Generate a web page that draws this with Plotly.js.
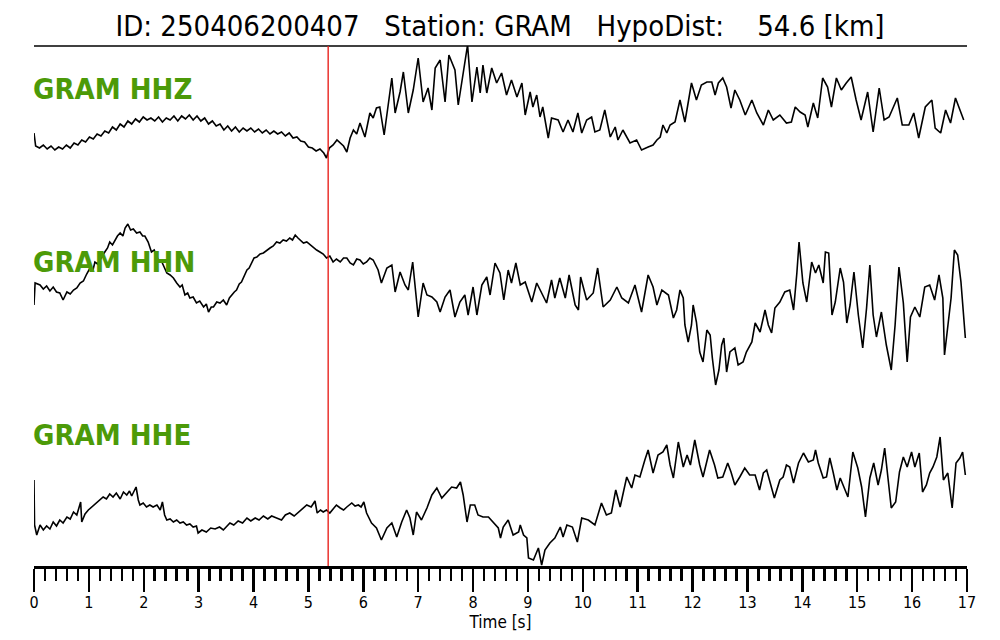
<!DOCTYPE html>
<html>
<head>
<meta charset="utf-8">
<script src="https://cdn.plot.ly/plotly-3.0.1.min.js"></script>
<style>html,body{margin:0;padding:0;background:#fff;}#chart{width:1000px;height:640px;}</style>
</head>
<body>
<div id="chart"></div>
<script>
// ---- Data (time in seconds, amplitude in arbitrary counts) ----
const stationName = "GRAM";
const eventId = "250406200407";
const hypoDistKm = 54.6;
const pickTime = 5.36;
const channels = ["HHZ", "HHN", "HHE"];

const timeZ = [0.00,0.03,0.10,0.17,0.24,0.31,0.38,0.45,0.52,0.59,0.66,0.73,0.80,0.87,0.94,1.01,1.08,1.15,1.22,1.29,1.36,1.43,1.50,1.57,1.64,1.71,1.78,1.85,1.92,1.99,2.06,2.13,2.20,2.27,2.34,2.41,2.48,2.55,2.62,2.69,2.76,2.83,2.90,2.97,3.04,3.11,3.18,3.25,3.32,3.39,3.46,3.53,3.60,3.67,3.74,3.81,3.88,3.95,4.02,4.09,4.16,4.23,4.30,4.37,4.44,4.51,4.58,4.65,4.72,4.79,4.86,4.93,5.00,5.07,5.14,5.21,5.28,5.33,5.38,5.45,5.52,5.58,5.64,5.70,5.76,5.82,5.88,5.94,6.03,6.12,6.18,6.24,6.30,6.38,6.52,6.58,6.67,6.73,6.82,6.91,7.00,7.09,7.18,7.25,7.31,7.40,7.49,7.56,7.67,7.73,7.82,7.90,7.98,8.07,8.13,8.18,8.25,8.34,8.43,8.52,8.61,8.70,8.80,8.89,8.95,9.04,9.09,9.16,9.22,9.27,9.37,9.43,9.55,9.64,9.73,9.82,9.91,9.98,10.07,10.16,10.22,10.31,10.40,10.50,10.59,10.64,10.73,10.86,10.98,11.07,11.19,11.28,11.35,11.41,11.46,11.53,11.59,11.68,11.77,11.86,11.98,12.07,12.16,12.26,12.35,12.41,12.47,12.55,12.62,12.70,12.77,12.86,12.96,13.08,13.17,13.29,13.38,13.47,13.59,13.71,13.80,13.87,13.96,14.05,14.10,14.20,14.28,14.37,14.46,14.53,14.62,14.71,14.80,14.89,14.98,15.07,15.19,15.29,15.40,15.49,15.58,15.73,15.82,15.94,16.03,16.12,16.24,16.36,16.42,16.52,16.61,16.70,16.79,16.88,16.94];
const ampZ = [-3,-16,-18,-15,-19,-16,-20,-17,-19,-15,-18,-13,-15,-10,-12,-7,-9,-4,-6,-1,-3,3,0,6,3,9,6,11,8,13,10,12,9,13,8,12,10,14,9,14,11,15,10,14,9,12,6,9,4,6,0,4,-1,3,-2,2,-1,2,-2,1,-3,0,-4,-1,-4,-2,-6,-3,-8,-7,-11,-12,-17,-18,-21,-19,-23,-28,-18,-15,-10,-13,-16,-22,-8,0,-4,7,-7,17,12,22,23,-5,52,17,38,58,17,40,72,28,42,20,62,70,28,75,60,25,55,85,28,63,37,65,37,62,47,57,35,50,33,47,15,38,23,35,13,23,-8,12,10,-2,10,-2,17,-3,10,13,-2,0,20,-7,3,-10,0,-13,-10,-20,-17,-15,-10,-7,5,-3,5,8,30,8,47,30,45,48,48,35,47,52,43,22,40,30,15,30,17,5,20,10,15,7,8,23,18,15,3,27,12,52,43,23,52,40,47,53,30,10,38,-2,42,10,13,32,5,5,17,-8,23,30,2,-3,20,7,32,18,10];

const timeN = [0.00,0.02,0.11,0.17,0.23,0.29,0.35,0.41,0.47,0.53,0.60,0.66,0.72,0.78,0.84,0.90,0.96,1.02,1.07,1.11,1.16,1.20,1.25,1.29,1.34,1.38,1.43,1.48,1.52,1.57,1.62,1.66,1.71,1.76,1.81,1.87,1.93,1.98,2.02,2.08,2.14,2.19,2.24,2.28,2.33,2.38,2.42,2.48,2.54,2.60,2.66,2.70,2.75,2.80,2.84,2.90,2.96,3.02,3.09,3.14,3.18,3.23,3.27,3.33,3.39,3.45,3.51,3.56,3.60,3.65,3.69,3.74,3.78,3.83,3.88,3.92,3.97,4.01,4.06,4.12,4.18,4.24,4.30,4.36,4.42,4.48,4.54,4.60,4.66,4.71,4.76,4.81,4.85,4.91,4.97,5.03,5.09,5.15,5.21,5.27,5.33,5.39,5.45,5.51,5.58,5.64,5.70,5.76,5.82,5.88,5.94,6.00,6.06,6.12,6.18,6.27,6.33,6.43,6.52,6.58,6.67,6.76,6.82,6.90,7.00,7.09,7.16,7.25,7.34,7.40,7.49,7.58,7.67,7.76,7.85,7.91,8.00,8.07,8.16,8.25,8.31,8.40,8.49,8.56,8.64,8.70,8.78,8.86,8.95,9.07,9.16,9.25,9.34,9.43,9.49,9.58,9.68,9.75,9.86,9.92,9.96,10.07,10.19,10.27,10.37,10.50,10.62,10.71,10.83,10.95,11.07,11.19,11.28,11.35,11.44,11.56,11.65,11.71,11.77,11.83,11.86,11.92,11.98,12.01,12.07,12.13,12.19,12.26,12.32,12.36,12.42,12.48,12.53,12.57,12.62,12.68,12.77,12.83,12.92,12.98,13.08,13.14,13.23,13.32,13.38,13.44,13.50,13.59,13.68,13.77,13.84,13.90,13.94,14.01,14.08,14.17,14.24,14.30,14.38,14.42,14.48,14.54,14.60,14.69,14.75,14.81,14.87,14.94,15.02,15.10,15.17,15.23,15.29,15.35,15.44,15.53,15.62,15.69,15.76,15.84,15.91,15.97,16.05,16.14,16.23,16.32,16.41,16.49,16.56,16.59,16.65,16.71,16.77,16.83,16.89,16.97];
const ampN = [-15,7,5,1,4,-1,3,-2,-3,-10,-2,-4,0,2,7,9,16,22,19,28,26,30,35,38,42,48,45,50,54,57,54,62,66,60,61,57,58,54,54,48,38,40,33,28,28,22,17,15,12,7,3,5,-5,-3,-8,-7,-13,-11,-17,-14,-22,-17,-17,-12,-13,-10,-15,-8,-5,-2,0,6,8,14,20,22,28,32,33,36,37,40,42,44,48,47,50,49,52,50,55,52,50,47,48,45,43,40,38,36,32,34,28,31,28,32,32,27,25,31,30,26,28,32,30,20,7,22,25,-2,18,5,0,28,-27,7,-5,-7,-12,-22,-7,0,-27,-12,-5,-25,3,-25,5,13,-5,27,17,-10,20,7,27,5,8,-12,7,-3,-13,10,-8,12,-8,15,-15,-20,13,-10,-3,22,-17,-10,3,-8,-13,5,-22,15,3,-15,0,-5,-28,-20,0,-8,-35,-52,-35,-15,-32,-62,-72,-40,-45,-68,-95,-80,-55,-48,-82,-62,-58,-75,-72,-62,-52,-33,-42,-20,-35,-43,-18,-12,-2,0,-20,17,48,7,-12,28,17,25,7,38,37,-25,-12,22,8,-33,-15,18,-25,-58,-18,25,-25,-47,-22,-55,-80,-35,23,-13,-72,-27,-17,-27,3,5,-10,15,-8,-65,-35,-8,40,35,8,-48];

const timeE = [0.00,0.01,0.05,0.11,0.17,0.23,0.29,0.35,0.41,0.47,0.53,0.60,0.66,0.72,0.78,0.82,0.85,0.87,0.93,0.99,1.05,1.11,1.16,1.20,1.26,1.32,1.38,1.44,1.50,1.57,1.63,1.69,1.74,1.78,1.84,1.86,1.90,1.93,1.99,2.05,2.11,2.17,2.24,2.30,2.34,2.38,2.42,2.48,2.54,2.60,2.66,2.72,2.78,2.84,2.90,2.96,2.99,3.06,3.14,3.22,3.30,3.38,3.45,3.51,3.57,3.64,3.72,3.80,3.88,3.95,4.03,4.10,4.18,4.26,4.33,4.42,4.51,4.58,4.66,4.74,4.82,4.90,4.97,5.05,5.12,5.16,5.22,5.27,5.33,5.39,5.45,5.51,5.58,5.64,5.70,5.79,5.85,5.91,5.96,6.01,6.06,6.15,6.24,6.33,6.43,6.52,6.61,6.70,6.79,6.85,6.91,6.97,7.06,7.16,7.25,7.34,7.43,7.52,7.61,7.70,7.77,7.82,7.89,7.95,8.03,8.09,8.18,8.28,8.37,8.46,8.50,8.55,8.64,8.73,8.83,8.86,8.92,8.98,9.01,9.10,9.19,9.25,9.31,9.40,9.49,9.59,9.64,9.71,9.81,9.90,9.98,10.10,10.22,10.34,10.43,10.52,10.60,10.68,10.80,10.89,10.95,11.04,11.13,11.19,11.28,11.37,11.46,11.53,11.59,11.65,11.74,11.83,11.90,11.96,12.04,12.13,12.19,12.31,12.40,12.46,12.55,12.64,12.70,12.77,12.86,12.95,13.04,13.14,13.22,13.29,13.35,13.41,13.49,13.59,13.65,13.71,13.77,13.84,13.93,14.02,14.11,14.20,14.24,14.29,14.38,14.44,14.50,14.56,14.63,14.69,14.77,14.83,14.92,15.01,15.08,15.15,15.23,15.30,15.38,15.44,15.50,15.56,15.62,15.70,15.77,15.84,15.91,15.99,16.05,16.13,16.19,16.26,16.32,16.38,16.45,16.51,16.57,16.65,16.73,16.80,16.87,16.92,16.97];
const ampE = [20,-25,-35,-25,-30,-26,-29,-22,-26,-20,-23,-17,-19,-12,-15,-8,-2,-22,-14,-10,-7,-4,-1,0,3,1,6,3,7,1,8,5,9,4,10,13,0,-5,-3,-7,-5,-7,-5,-10,-2,-15,-20,-19,-22,-20,-23,-22,-25,-24,-27,-26,-33,-30,-32,-28,-29,-27,-30,-26,-23,-25,-21,-23,-18,-21,-18,-20,-16,-19,-16,-18,-20,-15,-13,-16,-12,-9,-5,-7,-1,-13,-10,-12,-10,-13,-9,-5,-8,-10,-7,-3,-6,-5,-7,-2,-13,-23,-28,-40,-28,-23,-37,-22,-10,-18,-35,-12,-20,-8,5,12,2,7,13,12,18,5,-22,-5,-5,-15,-17,-17,-22,-28,-38,-27,-20,-35,-32,-25,-35,-38,-58,-60,-48,-65,-50,-43,-38,-27,-37,-25,-27,-42,-18,-20,-25,-3,-15,-13,10,-7,23,12,25,23,40,50,27,45,48,55,35,22,58,33,45,35,60,35,23,50,35,22,23,37,28,15,23,32,25,25,10,27,30,17,2,20,23,35,33,17,37,47,38,40,50,37,22,23,42,28,10,22,12,3,48,32,13,-17,22,37,15,30,52,23,-8,-2,28,43,33,48,33,47,8,15,27,33,43,63,20,27,-8,37,42,48,25];

// ---- Layout constants ----
const traceBase = [436, 276, 66];   // vertical offsets of the three channels
const labelY = [0.917, 0.585, 0.251];
const fam = "'DejaVu Sans Condensed', 'DejaVu Sans', sans-serif";

const times = [timeZ, timeN, timeE];
const amps = [ampZ, ampN, ampE];

const data = channels.map((ch, i) => ({
  type: 'scatter',
  mode: 'lines',
  name: stationName + ' ' + ch,
  x: times[i],
  y: amps[i].map(v => v + traceBase[i]),
  line: {color: '#000000', width: 1.6},
  hoverinfo: 'skip',
  showlegend: false
}));

const annotations = channels.map((ch, i) => ({
  text: stationName + ' ' + ch,
  xref: 'paper', yref: 'paper',
  x: 0, y: labelY[i],
  xanchor: 'left', yanchor: 'middle',
  xshift: -3,
  showarrow: false,
  font: {family: fam, size: 29, color: '#4c9a08', weight: 700}
}));

const layout = {
  width: 1000, height: 640,
  margin: {l: 34, r: 33, t: 46, b: 74, pad: 0},
  paper_bgcolor: '#ffffff',
  plot_bgcolor: '#ffffff',
  showlegend: false,
  title: {
    text: 'ID: ' + eventId + '   Station: ' + stationName + '   HypoDist:    ' + hypoDistKm.toFixed(1) + ' [km]',
    x: 0.5, xanchor: 'center',
    y: 1 - 26/640, yanchor: 'middle', yref: 'container',
    font: {family: fam, size: 29, color: '#000000'}
  },
  xaxis: {
    range: [0, 17],
    tickmode: 'linear', tick0: 0, dtick: 1,
    ticks: 'outside', ticklen: 23, tickwidth: 2.5, tickcolor: '#000',
    ticklabelstandoff: -3,
    minor: {dtick: 0.2, ticks: 'outside', ticklen: 12, tickwidth: 2.5, tickcolor: '#000', showgrid: false},
    showline: true, linecolor: '#000', linewidth: 2.5,
    showgrid: false, zeroline: false,
    tickfont: {family: fam, size: 16, color: '#000'},
    title: {text: 'Time [s]', standoff: 0, font: {family: fam, size: 17, color: '#000'}}
  },
  yaxis: {
    range: [0, 520], visible: false, fixedrange: true
  },
  shapes: [
    {type: 'line', xref: 'paper', yref: 'paper', x0: 0, x1: 1, y0: 1, y1: 1, line: {color: '#000', width: 1.6}},
    {type: 'line', xref: 'x', yref: 'paper', x0: pickTime, x1: pickTime, y0: 0, y1: 1, line: {color: '#e8231e', width: 1.4}}
  ],
  annotations: annotations
};

Plotly.newPlot('chart', data, layout, {staticPlot: true, displayModeBar: false});
</script>
</body>
</html>
